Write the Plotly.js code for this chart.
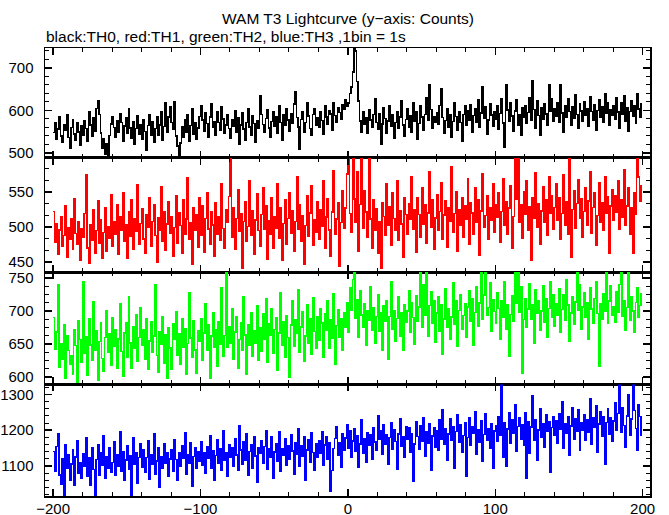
<!DOCTYPE html>
<html><head><meta charset="utf-8">
<script src="https://cdn.plot.ly/plotly-3.0.1.min.js"></script>
<style>html,body{margin:0;padding:0;background:#fff}#chart{width:669px;height:515px}
#chart .scatterlayer path{shape-rendering:crispEdges}</style>
</head><body><div id="chart"></div>
<script>
const binStart = -200;   // first bin time (s)
const binWidth = 1;      // 1bin = 1s
const th0 = [
548,572,531,556,584,540,525,567,553,589,536,512,560,578,545,530,571,549,518,563,
541,575,557,528,596,566,539,582,551,605,623,590,547,510,533,497,522,494,541,568,
586,560,537,575,549,592,571,528,563,582,546,604,559,535,574,521,557,588,543,567,
532,579,550,507,564,591,541,573,526,558,585,542,566,598,530,562,617,548,584,609,
572,556,621,540,516,494,523,561,537,578,549,590,527,565,603,544,571,533,559,586,
612,578,551,595,569,537,584,616,560,574,542,598,571,553,609,580,547,566,591,558,
535,577,562,599,548,583,520,566,594,556,530,572,605,561,541,587,569,524,576,557,
635,590,567,548,581,602,559,536,574,597,563,585,547,612,571,530,589,566,604,578,
552,593,570,615,645,583,561,508,579,596,548,572,618,587,557,541,590,603,565,582,
560,598,576,545,611,584,567,600,592,554,617,588,571,606,595,580,614,603,625,610,
618,640,655,690,745,740,668,622,575,548,596,568,583,547,602,577,560,590,628,571,
555,593,520,568,607,581,546,575,612,563,589,535,571,598,557,584,622,566,540,579,
603,561,588,548,617,575,596,532,569,610,584,553,591,629,578,660,602,557,586,571,
594,568,612,650,583,547,576,605,560,591,538,574,619,586,553,597,572,528,590,611,
566,599,577,614,549,588,603,571,625,560,594,655,582,608,545,578,616,589,562,597,
580,611,556,593,628,570,513,660,601,575,618,587,552,599,624,566,590,541,607,583,
612,569,595,630,578,670,602,557,623,588,541,606,580,615,592,566,660,598,627,575,
603,586,619,571,660,594,548,612,583,628,597,565,609,581,636,590,557,615,599,574,
621,589,605,562,633,597,578,614,553,600,626,585,608,571,640,593,619,565,602,588,
611,580,629,596,558,617,590,634,575,606,551,598,623,586,612,569,640,603,585,618];
const th1 = [
522,478,505,461,496,515,472,488,530,457,499,483,512,468,540,491,476,507,452,498,
486,519,574,470,449,503,481,524,462,495,537,477,510,455,492,528,466,501,484,546,
473,508,490,532,461,515,496,548,479,503,456,521,487,539,469,511,494,560,476,505,
526,483,463,517,499,541,472,508,531,488,450,513,495,557,480,522,467,504,536,491,
514,458,499,545,477,520,502,463,538,489,511,570,482,506,447,528,495,517,471,542,
488,530,464,512,549,497,476,521,503,459,535,490,515,481,562,498,470,525,507,543,
605,486,527,468,512,553,494,519,442,508,536,479,501,566,488,523,461,510,547,495,
473,518,556,497,530,454,509,489,541,470,515,498,562,484,527,452,505,538,476,512,
549,491,523,466,508,571,497,531,480,516,447,502,544,487,520,558,474,510,493,536,
482,525,501,566,470,514,540,496,458,521,580,489,511,535,444,506,552,498,527,575,
603,519,492,610,540,507,578,466,532,600,498,552,521,485,605,511,470,538,495,526,
462,507,441,534,515,488,561,503,529,474,548,512,496,566,481,523,504,457,541,518,
489,533,511,572,497,525,464,542,518,486,556,504,531,477,520,579,500,538,469,513,
546,495,522,563,483,517,537,471,528,508,585,492,519,550,465,524,503,541,486,530,
511,568,476,534,520,490,555,507,538,460,523,576,499,516,545,482,527,509,561,493,
531,514,548,478,522,569,503,536,489,527,558,470,515,600,540,598,507,532,484,550,
518,565,496,529,452,541,512,577,499,533,475,523,557,506,538,488,572,519,545,497,
528,562,509,541,483,519,574,502,536,490,605,457,525,551,498,533,567,512,540,485,
522,556,503,537,579,491,528,548,474,516,563,507,534,495,571,519,543,462,530,553,
509,545,521,566,497,538,514,581,502,530,556,490,527,463,549,518,605,571,536,560];
const th2 = [
690,642,668,739,615,651,627,679,598,662,640,620,633,605,671,648,592,685,657,622,
745,636,661,603,688,649,625,714,640,670,596,654,683,628,609,660,700,637,665,618,
690,646,672,613,658,711,639,601,667,683,630,722,652,614,676,643,695,624,660,705,
648,671,627,689,612,655,684,638,662,740,633,607,669,650,692,621,664,598,675,644,
612,681,657,699,633,666,619,688,645,673,604,651,727,659,630,685,641,606,670,654,
688,625,667,711,640,679,599,662,698,645,672,617,684,650,735,631,663,760,645,676,
652,703,627,668,691,614,657,683,640,721,664,605,679,648,697,632,670,651,708,625,
674,639,696,658,718,622,681,664,703,636,672,690,611,667,728,649,684,630,693,660,
600,679,715,646,687,667,732,638,676,699,624,662,710,651,688,635,720,669,643,691,
656,704,682,630,696,671,715,644,687,659,726,620,678,702,661,689,641,697,675,712,
668,735,701,748,760,689,717,660,730,694,675,711,648,700,686,737,671,705,652,692,
725,669,697,640,708,684,716,627,692,745,673,701,655,689,722,662,698,641,710,683,
700,731,668,712,690,650,723,685,706,760,676,739,694,760,662,708,729,681,715,653,
697,722,669,710,634,688,733,675,704,657,691,742,680,716,647,701,725,672,693,711,
660,706,731,685,719,649,698,736,677,712,760,688,724,760,693,705,742,670,717,699,
681,728,704,657,716,690,744,672,709,631,695,723,684,760,712,760,698,736,606,687,
719,675,703,741,688,710,652,732,696,715,671,700,738,683,718,661,704,745,690,725,
677,711,694,733,668,702,725,686,748,709,655,697,721,680,714,760,701,739,673,706,
728,690,712,657,735,703,681,719,744,696,616,711,688,726,700,760,682,715,738,694,
707,683,729,698,740,760,692,716,671,705,760,686,722,700,668,713,735,690,708,727];
const th3 = [
1140,1085,1155,1190,1075,1050,1120,1015,1160,1095,1130,1060,1105,1145,1045,1125,1170,1080,1110,1065,
1135,1098,1180,1070,1122,1046,1150,1090,1012,1118,1160,1075,1138,1101,1185,1066,1127,1094,1152,1083,
1110,1168,1075,1130,1098,1195,1085,1141,1060,1117,1156,1092,1128,1018,1178,1104,1136,1051,1123,1162,
1097,1146,1082,1124,1170,1063,1132,1105,1189,1078,1114,1150,1041,1126,1093,1163,1108,1137,1070,1120,
1145,1086,1172,1118,1059,1138,1099,1157,1122,1193,1076,1131,1108,1166,1044,1127,1151,1095,1140,1113,
1168,1102,1137,1080,1155,1121,1185,1093,1143,1060,1129,1174,1107,1149,1087,1198,1116,1138,1071,1160,
1125,1152,1098,1176,1131,1089,1212,1145,1104,1167,1117,1190,1073,1141,1158,1095,1182,1128,1055,1150,
1136,1171,1108,1154,1199,1092,1147,1125,1183,1066,1139,1162,1113,1195,1084,1148,1130,1176,1101,1157,
1119,1188,1142,1076,1165,1133,1204,1098,1156,1127,1181,1060,1145,1172,1110,1193,1138,1087,1161,1124,
1170,1135,1196,1102,1158,1183,1120,1165,1028,1088,1149,1177,1211,1131,1166,1097,1189,1143,1178,1214,
1150,1199,1123,1170,1205,1141,1184,1096,1162,1229,1136,1175,1111,1193,1158,1186,1120,1208,1167,1143,
1240,1174,1198,1132,1215,1160,1187,1105,1179,1222,1148,1201,1169,1092,1190,1233,1155,1181,1124,1210,
1176,1206,1138,1190,1058,1162,1225,1183,1147,1212,1170,1236,1128,1195,1163,1219,1087,1184,1207,1152,
1199,1145,1228,1176,1258,1160,1203,1117,1189,1231,1172,1211,1093,1197,1244,1166,1214,1138,1185,1222,
1072,1180,1236,1157,1209,1191,1253,1134,1201,1167,1226,1112,1188,1247,1172,1205,1150,1219,1095,1198,
1213,1170,1237,1186,1330,1125,1221,1098,1203,1250,1164,1229,1192,1271,1142,1210,1235,1176,1216,1159,
1248,1066,1224,1136,1209,1297,1173,1230,1116,1201,1259,1181,1218,1152,1244,1196,1225,1083,1207,1238,
1187,1226,1163,1247,1204,1279,1150,1219,1191,1238,1129,1212,1264,1175,1231,1198,1256,1143,1220,1201,
1242,1172,1228,1195,1287,1160,1234,1208,1269,1139,1217,1251,1183,1239,1106,1222,1259,1190,1236,1168,
1226,1278,1200,1247,1330,1195,1262,1213,1151,1240,1298,1186,1232,1330,1255,1205,1143,1270,1238,1185];
const seriesList = [th0, th1, th2, th3];
const colors = ['#000000', '#ff0000', '#00ff00', '#0000ff'];
const yRanges = [[488, 747], [436, 598], [589, 759], [1016, 1328]];
const yMajor = [100, 50, 50, 100];
const yMinor = [20, 50/3, 12.5, 20];
const xRange = [-205.5, 205];
const titleText = 'WAM T3 Lightcurve (y\u2212axis: Counts)';
const subText = 'black:TH0, red:TH1, green:TH2, blue:TH3 ,1bin = 1s';

const times = th0.map((_, i) => binStart + i * binWidth);
const family = 'Liberation Sans, Arial, sans-serif';
const tickFont = {family: family, size: 15, color: '#000'};
const textFont = {family: family, size: 15.5, color: '#000'};
const domains = [[0.7545, 1], [0.5, 0.7545], [0.249, 0.5], [0, 0.249]];

const traces = seriesList.map((ys, k) => ({
  x: times, y: ys, type: 'scatter', mode: 'lines',
  line: {color: colors[k], width: 1.5, shape: 'hv'},
  xaxis: k === 0 ? 'x' : 'x' + (k + 1), yaxis: k === 0 ? 'y' : 'y' + (k + 1),
  hoverinfo: 'skip', showlegend: false
}));

const layout = {
  width: 669, height: 515,
  margin: {l: 45, r: 19, t: 48, b: 19},
  paper_bgcolor: '#fff', plot_bgcolor: '#fff',
  font: tickFont, showlegend: false,
  annotations: [
    {text: titleText, xref: 'paper', yref: 'paper', x: 0.5, y: 1, yshift: 30, xanchor: 'center', yanchor: 'middle', showarrow: false, font: textFont},
    {text: subText, xref: 'paper', yref: 'paper', x: 0, y: 1, xshift: -1, yshift: 12, xanchor: 'left', yanchor: 'middle', showarrow: false, font: textFont}
  ]
};
for (let k = 0; k < 4; k++) {
  const sx = k === 0 ? '' : String(k + 1);
  layout['xaxis' + sx] = {
    range: xRange, anchor: 'y' + sx, domain: [0, 1],
    showline: true, linecolor: '#000', linewidth: 1.5, mirror: 'allticks',
    ticks: 'inside', ticklen: 7, tickwidth: 1.5, tickcolor: '#000',
    dtick: 100, tick0: 0, showgrid: false, zeroline: false,
    minor: {dtick: 20, tick0: 0, ticks: 'inside', ticklen: 4, tickwidth: 1, tickcolor: '#000', showgrid: false},
    showticklabels: k === 3, tickfont: tickFont, ticklabelstandoff: -2
  };
  layout['yaxis' + sx] = {
    range: yRanges[k], anchor: 'x' + sx, domain: domains[k],
    showline: true, linecolor: '#000', linewidth: 1.5, mirror: 'allticks',
    ticks: 'inside', ticklen: 7, tickwidth: 1.5, tickcolor: '#000',
    dtick: yMajor[k], tick0: 0, showgrid: false, zeroline: false,
    minor: {dtick: yMinor[k], tick0: 0, ticks: 'inside', ticklen: 4, tickwidth: 1, tickcolor: '#000', showgrid: false},
    tickfont: tickFont, ticklabelstandoff: 7
  };
}
Plotly.newPlot('chart', traces, layout, {staticPlot: true, displayModeBar: false});
</script></body></html>
